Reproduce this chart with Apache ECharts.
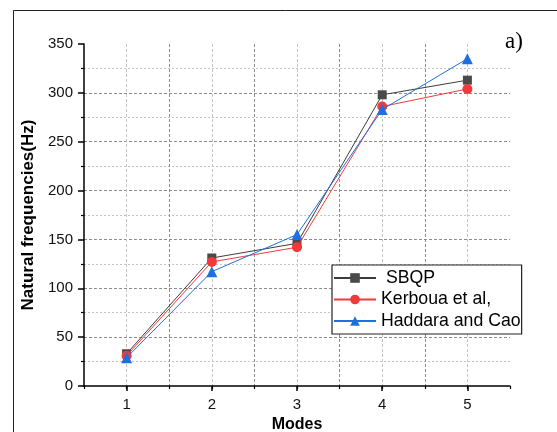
<!DOCTYPE html>
<html>
<head>
<meta charset="utf-8">
<script src="https://cdn.jsdelivr.net/npm/echarts@6/dist/echarts.min.js"></script>
<style>
  html, body { margin: 0; padding: 0; background: #fff; }
  #chart { width: 557px; height: 432px; }
</style>
</head>
<body>
<div id="chart"></div>
<script>
var modes = [1, 2, 3, 4, 5];
var sbqp = [33, 131, 146, 298, 313];
var kerboua = [31, 127, 142, 286, 304];
var haddara = [29, 117, 155, 283, 335];
var seriesNames = [' SBQP', 'Kerboua et al,', 'Haddara and Cao'];

function pairs(vals) {
    return modes.map(function (m, i) { return [m, vals[i]]; });
}

var chartDom = document.getElementById('chart');
var myChart = echarts.init(chartDom);
var option;

var majorGrid = '#8c8c8c';
var minorGrid = '#c4c4c4';

option = {
    animation: false,
    grid: { left: 84, top: 44, right: 47, bottom: 46, containLabel: false, outerBoundsMode: 'none' },
    graphic: [
        {
            type: 'rect',
            shape: { x: 13.5, y: 10.5, width: 700, height: 600 },
            style: { fill: 'none', stroke: '#222', lineWidth: 1 },
            silent: true
        },
        {
            type: 'text',
            left: 505,
            top: 30,
            style: { text: 'a)', font: '23px "Liberation Serif"', fill: '#000' }
        }
    ],
    xAxis: [
        {
            type: 'value',
            min: 0.5,
            max: 5.5,
            interval: 0.5,
            name: 'Modes',
            nameLocation: 'middle',
            nameGap: 28,
            nameTextStyle: { fontFamily: 'Liberation Sans', fontWeight: 'bold', fontSize: 16, color: '#000' },
            axisLine: { show: true, onZero: false, lineStyle: { color: '#000', width: 1.5 } },
            axisTick: { show: true, customValues: modes, length: 5, lineStyle: { color: '#000', width: 1.5 } },
            axisLabel: {
                customValues: modes,
                margin: 11,
                fontFamily: 'Liberation Sans',
                fontSize: 15,
                color: '#111'
            },
            splitLine: { show: false }
        },
        {
            type: 'value',
            min: 0.5,
            max: 5.5,
            interval: 0.5,
            position: 'bottom',
            axisLine: { show: false },
            axisTick: { show: true, length: 3, lineStyle: { color: '#000', width: 1.2 } },
            axisLabel: { show: false },
            splitLine: {
                show: true,
                showMinLine: false,
                showMaxLine: false,
                lineStyle: { color: [minorGrid, majorGrid], type: [3, 2], width: 1 }
            }
        }
    ],
    yAxis: {
        type: 'value',
        min: 0,
        max: 350,
        interval: 50,
        name: 'Natural frequencies(Hz)',
        nameLocation: 'middle',
        nameGap: 40,
        nameTextStyle: { fontFamily: 'Liberation Sans', fontWeight: 'bold', fontSize: 17, color: '#000' },
        axisLine: { show: true, lineStyle: { color: '#000', width: 1.5 } },
        axisTick: { show: true, length: 6, lineStyle: { color: '#000', width: 1.5 } },
        minorTick: { show: true, splitNumber: 2, length: 3, lineStyle: { color: '#000', width: 1.2 } },
        axisLabel: { margin: 11, fontFamily: 'Liberation Sans', fontSize: 15, color: '#111' },
        splitLine: {
            show: true,
            showMinLine: false,
            showMaxLine: false,
            lineStyle: { color: majorGrid, type: [3, 2], width: 1 }
        },
        minorSplitLine: {
            show: true,
            lineStyle: { color: minorGrid, type: [2, 2], width: 1 }
        }
    },
    legend: {
        left: 332,
        top: 265,
        orient: 'vertical',
        itemWidth: 42,
        itemHeight: 12,
        itemGap: 1.5,
        padding: [3, 1, 3, 1],
        borderColor: '#222',
        borderWidth: 1.2,
        backgroundColor: '#fff',
        textStyle: { fontFamily: 'Liberation Sans', fontSize: 17.7, lineHeight: 20, color: '#000' },
        data: seriesNames
    },
    series: [
        {
            name: seriesNames[0],
            type: 'line',
            data: pairs(sbqp),
            symbol: 'rect',
            symbolSize: 9,
            lineStyle: { color: '#3c3c3c', width: 1 },
            itemStyle: { color: '#4a4a4a' },
            z: 3
        },
        {
            name: seriesNames[1],
            type: 'line',
            data: pairs(kerboua),
            symbol: 'circle',
            symbolSize: 10,
            lineStyle: { color: '#f03a3a', width: 1 },
            itemStyle: { color: '#f03a3a' },
            z: 4
        },
        {
            name: seriesNames[2],
            type: 'line',
            data: pairs(haddara),
            symbol: 'triangle',
            symbolSize: 11,
            lineStyle: { color: '#1f6fe0', width: 1 },
            itemStyle: { color: '#1f6fe0' },
            z: 5
        }
    ]
};

option && myChart.setOption(option);
window.addEventListener('resize', function () {
    myChart.resize();
});
</script>
</body>
</html>
